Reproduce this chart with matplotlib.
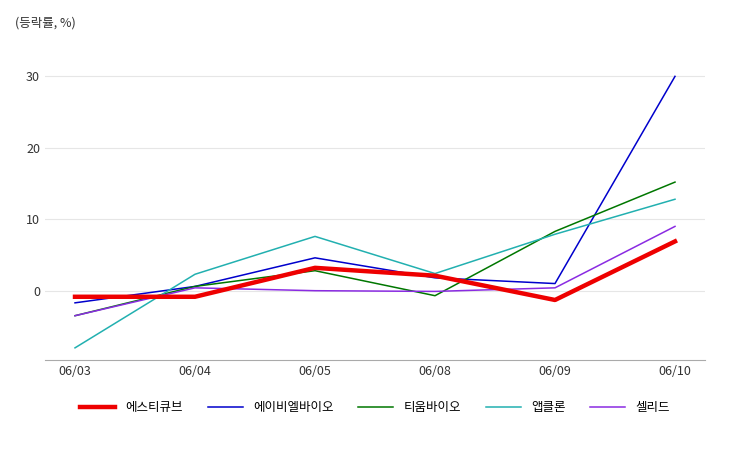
import matplotlib
matplotlib.use("Agg")
import matplotlib.pyplot as plt
from matplotlib import font_manager as fm

fam = None
for f in fm.fontManager.ttflist:
    if "CJK" in f.name and ("KR" in f.name or fam is None):
        fam = f.name
        if "KR" in f.name:
            break
if fam is None:
    for p in fm.findSystemFonts():
        if "CJK" in p or "Noto" in p and "KR" in p:
            fm.fontManager.addfont(p)
            fam = fm.FontProperties(fname=p).get_name()
            break
plt.rcParams["font.family"] = [fam or "DejaVu Sans", "DejaVu Sans"]

dates = ["06/03", "06/04", "06/05", "06/08", "06/09", "06/10"]
names = ["에스티큐브", "에이비엘바이오", "티움바이오", "앱클론", "셀리드"]
s_estcube = [-0.85, -0.85, 3.2, 2.1, -1.3, 6.9]
s_abl = [-1.7, 0.6, 4.6, 1.8, 1.0, 30.0]
s_tium = [-3.5, 0.6, 2.8, -0.7, 8.3, 15.2]
s_abclon = [-8.0, 2.3, 7.6, 2.4, 7.9, 12.8]
s_cellid = [-3.5, 0.4, 0.0, -0.1, 0.4, 9.0]
yticks = [0, 10, 20, 30]

series = [s_estcube, s_abl, s_tium, s_abclon, s_cellid]
colors = ["#ee0000", "#0000cc", "#007700", "#22b0b0", "#8a2be2"]
widths = [3.2, 1.1, 1.1, 1.1, 1.1]

fig = plt.figure(figsize=(7.5, 4.5), dpi=100)
ax = fig.add_axes([0.06, 0.2, 0.88, 0.67])
x = range(len(dates))
order = [1, 2, 3, 4, 0]
for i in order:
    ax.plot(x, series[i], color=colors[i], lw=widths[i], label=names[i], zorder=3 if i == 0 else 2)
ax.set_xlim(-0.25, 5.25)
ax.set_ylim(-9.7, 32.5)
ax.set_yticks(yticks)
ax.set_xticks(list(x))
ax.set_xticklabels(dates)
ax.grid(axis="y", color="#e6e6e6", lw=0.8)
for s in ["top", "right", "left"]:
    ax.spines[s].set_visible(False)
ax.spines["bottom"].set_color("#aaaaaa")
ax.tick_params(length=0, labelsize=9, colors="#333333")
fig.text(0.02, 0.94, "(등락률, %)", fontsize=9, color="#333333")
handles, labels = ax.get_legend_handles_labels()
hl = dict(zip(labels, handles))
ax.legend([hl[n] for n in names], names, loc="upper center", bbox_to_anchor=(0.5, -0.1),
          ncol=5, frameon=False, fontsize=9, handlelength=2.8)
fig.savefig("out.png")
